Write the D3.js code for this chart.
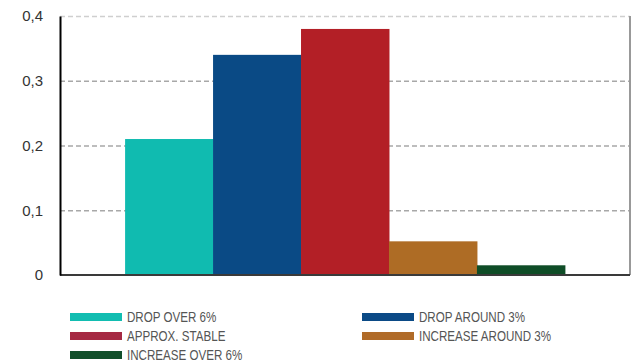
<!DOCTYPE html>
<html>
<head>
<meta charset="utf-8">
<script src="https://cdn.jsdelivr.net/npm/d3@7"></script>
<style>
  body { margin: 0; background: #fff; }
  svg { display: block; }
</style>
</head>
<body>
<div id="chart"></div>
<script>
// data
var categories = ["DROP OVER 6%", "DROP AROUND 3%", "APPROX. STABLE", "INCREASE AROUND 3%", "INCREASE OVER 6%"];
var values = [0.21, 0.34, 0.38, 0.052, 0.015];
var barColors = ["#10bbb0", "#0a4a85", "#b31f26", "#ae6c25", "#0f4d27"];
var legendColors = ["#12bdb1", "#0b4a86", "#a52943", "#b06b28", "#114f2a"];
var yTicks = [0, 0.1, 0.2, 0.3, 0.4];

var width = 633, height = 363;
var margin = {left: 60, right: 3, top: 16, bottom: 88};

var svg = d3.select("#chart").append("svg")
    .attr("width", width)
    .attr("height", height);

var y = d3.scaleLinear().domain([0, 0.4]).range([height - margin.bottom, margin.top]);

// one group, bars side by side
var x0 = d3.scaleBand().domain(["g"]).range([margin.left, width - margin.right])
    .paddingInner(0).paddingOuter(0.148);
var x1 = d3.scaleBand().domain(categories).range([0, x0.bandwidth()]).padding(0);

// grid lines
svg.append("g").selectAll("line")
    .data(yTicks.filter(function (d) { return d > 0; }))
    .enter().append("line")
    .attr("x1", margin.left)
    .attr("x2", width - margin.right)
    .attr("y1", function (d) { return y(d) + 0.5; })
    .attr("y2", function (d) { return y(d) + 0.5; })
    .attr("stroke", function (d) { return d == 0.4 ? "#cfcfcf" : "#a8a8a8"; })
    .attr("stroke-width", 1.3)
    .attr("stroke-dasharray", "5,3");

// right border
svg.append("line")
    .attr("x1", width - margin.right).attr("x2", width - margin.right)
    .attr("y1", y(0.4)).attr("y2", y(0))
    .attr("stroke", "#999").attr("stroke-width", 2);

// bars
svg.append("g").selectAll("rect")
    .data(values)
    .enter().append("rect")
    .attr("x", function (d, i) { return x0("g") + x1(categories[i]); })
    .attr("y", function (d) { return y(d); })
    .attr("width", x1.bandwidth() + 0.5)
    .attr("height", function (d) { return y(0) - y(d); })
    .attr("fill", function (d, i) { return barColors[i]; });

// x base line
svg.append("line")
    .attr("x1", margin.left).attr("x2", width - margin.right)
    .attr("y1", y(0)).attr("y2", y(0))
    .attr("stroke", "#3a3a3a").attr("stroke-width", 2);

// y axis
var yAxis = d3.axisLeft(y)
    .tickValues(yTicks)
    .tickSize(0)
    .tickPadding(17)
    .tickFormat(function (d) { return d == 0 ? "0" : d3.format(".1f")(d).replace(".", ","); });

var ga = svg.append("g")
    .attr("transform", "translate(" + margin.left + ",0)")
    .call(yAxis);
ga.select(".domain").attr("stroke", "#000").attr("stroke-width", 2);
ga.selectAll("text")
    .attr("font-family", "Liberation Sans, Arial, sans-serif")
    .attr("font-size", 15)
    .attr("fill", "#333");

// legend
var legendPos = [[70, 317], [362, 317], [70, 336], [362, 336], [70, 355]];
var legend = svg.append("g").selectAll("g")
    .data(categories)
    .enter().append("g")
    .attr("transform", function (d, i) { return "translate(" + legendPos[i][0] + "," + legendPos[i][1] + ")"; });

legend.append("rect")
    .attr("x", 0).attr("y", -4)
    .attr("width", 52).attr("height", 8)
    .attr("fill", function (d, i) { return legendColors[i]; });

// condensed look: squeeze the text horizontally
legend.append("text")
    .attr("transform", "translate(57,5) scale(0.8,1)")
    .attr("font-family", "Liberation Sans, Arial, sans-serif")
    .attr("font-size", 14.5)
    .attr("fill", "#555")
    .text(function (d) { return d; });
</script>
</body>
</html>
